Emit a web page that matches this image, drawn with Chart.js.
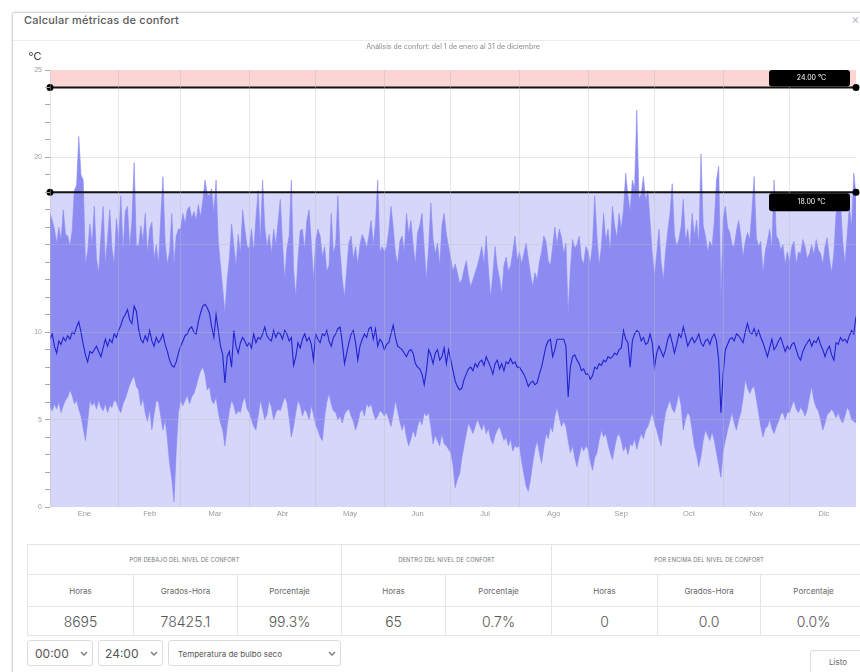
<!DOCTYPE html>
<html>
<head>
<meta charset="utf-8">
<script src="https://cdn.jsdelivr.net/npm/chart.js@4.4.1/dist/chart.umd.min.js"></script>
<style>
  html, body { margin:0; padding:0; background:#fff; width:860px; height:672px; overflow:hidden;
    font-family: Inter, "Noto Sans", sans-serif; }
  #modal { position:absolute; left:12px; top:12px; width:900px; height:700px; border:1px solid #d4d4d4;
    border-radius:3px; background:#fff; box-shadow:0 0 3px rgba(0,0,0,0.12); }
  #hdrline { position:absolute; left:13px; top:40px; width:860px; height:1px; background:#ececec; }
  #mtitle { position:absolute; left:24px; top:13px; font-size:11px; font-weight:500; color:#5a5a5a; letter-spacing:0.2px; }
  #close { position:absolute; left:851px; top:11px; font-size:13px; color:#bdbdbd; }
  #chartBox { position:absolute; left:12px; top:40px; width:848px; height:490px; }
  table.res { position:absolute; left:27px; top:544px; border-collapse:collapse; table-layout:fixed; }
  table.res td { border:1px solid #e4e4e4; text-align:center; color:#666; padding:0; overflow:hidden; white-space:nowrap; }
  table.res tr.g td { height:29px; font-size:5.8px; color:#777; letter-spacing:0.1px; }
  table.res tr.h td { height:31px; font-size:8px; color:#666; }
  table.res tr.v td { height:28px; font-size:14px; color:#555; font-weight:300; }
  .sel { position:absolute; top:640px; height:26px; border:1px solid #dcdcdc; border-radius:3px; box-sizing:border-box;
    color:#555; display:flex; align-items:center; }
  .sel span { position:absolute; }
  .sel svg { position:absolute; top:10px; }
  #listo { position:absolute; left:810px; top:650px; width:60px; height:26px; border:1px solid #dcdcdc; border-radius:3px;
    box-sizing:border-box; font-size:8px; color:#666; }
  #listo span { position:absolute; left:18px; top:6px; }
</style>
</head>
<body>
<div id="modal"></div>
<div id="hdrline"></div>
<div id="mtitle">Calcular métricas de confort</div>
<div id="close">×</div>
<div id="chartBox"><canvas id="c" width="848" height="490"></canvas></div>
<table class="res" id="tbl"></table>
<div class="sel" style="left:27px;width:66px;"><span style="left:7px;top:5px;font-size:12px;">00:00</span>
  <svg style="left:52px" width="8" height="6"><polyline points="1,1 4,4 7,1" fill="none" stroke="#777" stroke-width="1.3"/></svg></div>
<div class="sel" style="left:98px;width:65px;"><span style="left:6px;top:5px;font-size:12px;">24:00</span>
  <svg style="left:51px" width="8" height="6"><polyline points="1,1 4,4 7,1" fill="none" stroke="#777" stroke-width="1.3"/></svg></div>
<div class="sel" style="left:168px;width:173px;"><span style="left:9px;top:8px;font-size:8px;">Temperatura de bulbo seco</span>
  <svg style="left:159px" width="8" height="6"><polyline points="1,1 4,4 7,1" fill="none" stroke="#777" stroke-width="1.3"/></svg></div>
<div id="listo"><span>Listo</span></div>

<script>
// ---------- data ----------
const months = ['Ene','Feb','Mar','Abr','May','Jun','Jul','Ago','Sep','Oct','Nov','Dic'];
const daysInMonth = [31,28,31,30,31,30,31,31,30,31,30,31];
const chartTitle = 'Análisis de confort: del 1 de enero al 31 de diciembre';
const unitLabel = '°C';
const comfortLower = 18;
const comfortUpper = 24;
const yAxisMax = 25;

const dailyMax = [
  16.8,16.4,15.9,15.1,16.0,15.3,17.0,15.6,15.5,14.9,15.8,18.1,18.4,21.2,19.0,18.7,13.9,14.6,16.2,15.0,17.2,14.2,13.4,15.5,17.2,13.9,15.4,17.0,14.8,13.9,16.5,
  15.2,17.8,14.6,16.9,17.2,14.8,16.4,19.7,15.0,14.9,16.1,15.2,16.8,14.5,15.9,16.3,14.2,15.0,13.9,16.5,18.9,15.1,13.9,14.6,16.8,13.9,15.5,15.9,
  15.9,16.8,16.2,17.0,17.2,16.5,16.9,16.4,17.3,16.6,17.5,18.7,17.9,17.8,18.2,16.8,18.7,15.2,13.8,12.5,11.1,13.0,14.2,16.2,15.0,13.8,15.6,14.5,17.0,15.9,14.9,
  14.8,15.9,14.6,16.5,18.1,15.2,18.7,16.0,14.9,15.6,14.5,15.9,15.0,16.3,17.6,15.1,13.0,14.8,15.5,18.7,13.6,12.0,14.2,15.8,15.9,14.7,16.4,17.0,15.1,13.0,
  15.2,15.9,15.5,14.3,14.9,13.5,13.8,16.8,14.5,15.0,17.8,14.6,13.0,12.0,13.6,15.1,15.5,14.2,14.9,13.9,15.0,15.6,15.3,14.8,15.5,16.4,15.0,16.2,18.7,14.6,14.9,
  14.6,14.9,15.8,17.2,16.0,14.5,13.9,15.2,15.5,14.6,16.8,15.6,16.4,15.0,13.9,15.7,16.1,16.8,14.8,13.0,14.9,17.4,15.3,14.5,15.1,13.8,16.1,16.8,15.6,14.9,
  14.2,13.5,13.9,13.4,12.8,13.0,13.6,14.1,13.2,12.6,13.0,13.4,13.8,14.3,14.9,13.9,15.5,13.6,12.0,13.3,14.9,13.7,13.1,12.2,13.8,14.3,13.5,13.8,14.6,15.5,14.1,
  14.6,13.9,14.5,15.1,14.2,13.3,12.6,13.4,13.0,14.0,14.6,15.5,15.2,14.1,13.8,14.9,16.0,15.0,15.9,15.4,14.5,15.1,11.1,13.6,15.3,14.8,15.0,15.5,14.2,13.9,14.9,
  14.6,13.9,15.0,17.8,15.5,13.8,14.9,16.8,15.2,15.9,14.6,17.2,16.1,15.4,16.8,15.9,17.0,19.1,17.8,16.9,18.7,18.2,22.7,17.6,17.9,18.9,17.5,18.1,16.3,14.5,
  13.2,14.5,15.9,14.0,13.0,14.6,15.8,16.8,18.5,15.6,14.9,15.3,16.0,17.6,15.2,15.9,14.8,16.8,15.5,16.4,15.0,20.2,16.1,15.5,14.6,15.2,14.9,16.3,18.7,19.5,12.0,
  16.5,17.2,16.0,15.7,15.0,14.9,15.8,16.4,15.5,14.3,15.2,15.7,15.3,16.9,18.9,15.4,14.9,15.2,13.4,14.6,15.2,15.9,14.8,18.7,15.5,15.3,14.7,15.0,13.9,14.6,
  14.0,14.9,15.2,13.9,14.6,14.5,15.3,14.9,14.2,14.5,15.0,14.4,15.3,14.7,14.5,13.9,14.9,15.4,14.2,13.4,14.5,16.8,17.6,17.4,15.2,13.9,15.5,17.2,16.0,19.1,17.8
];

const dailyMean = [
  9.6,9.9,9.2,8.8,9.5,9.3,9.7,9.5,9.8,9.6,10.0,9.9,10.3,10.6,10.0,9.3,8.7,8.3,8.9,8.8,9.0,9.2,8.9,8.6,9.1,9.6,9.2,9.6,9.4,9.9,9.7,
  10.1,10.4,10.8,11.0,11.3,10.7,10.5,11.5,11.2,10.2,9.6,9.4,9.8,9.5,10.1,9.5,9.2,9.7,9.4,9.6,9.9,9.3,8.9,8.4,8.1,8.0,8.3,8.8,
  9.2,9.5,9.8,9.9,10.2,10.3,10.0,9.9,10.6,11.1,11.5,11.6,11.4,11.1,10.3,9.7,11.0,10.1,9.2,8.7,7.1,8.6,8.9,8.0,10.1,9.2,8.8,9.4,9.7,9.5,9.2,
  9.4,9.1,9.9,9.4,9.7,9.6,9.9,10.3,9.8,9.6,9.5,10.1,9.7,10.0,9.9,9.6,10.1,9.9,9.5,9.7,8.1,8.6,9.4,9.1,9.6,9.9,9.5,9.7,9.3,8.4,
  9.9,9.6,9.4,9.9,9.8,10.1,9.5,9.2,9.7,9.9,10.2,10.3,9.4,8.2,8.8,9.4,9.9,10.1,9.4,8.4,9.2,9.6,9.9,9.7,10.2,10.3,9.6,10.2,9.2,9.6,9.4,
  9.0,9.3,9.4,9.9,10.4,9.7,9.2,9.1,9.0,8.8,8.6,8.9,9.0,8.8,8.2,8.0,7.9,7.6,7.0,7.8,9.0,8.7,8.2,8.8,9.0,8.4,8.6,9.1,8.2,9.0,
  8.4,7.8,7.2,6.9,6.7,6.8,7.3,7.6,7.9,8.0,7.8,8.2,8.0,8.3,8.4,8.1,8.6,8.3,8.0,7.6,8.2,8.4,7.9,8.2,7.8,8.3,8.2,8.5,8.2,8.3,8.0,
  8.0,7.8,7.6,7.3,6.9,7.1,7.2,7.0,7.1,7.6,8.0,8.6,9.2,9.5,9.6,8.6,9.0,9.6,9.6,9.6,9.6,9.2,6.3,8.0,8.6,8.7,8.4,8.2,7.8,7.9,7.6,
  7.6,7.3,7.5,8.0,7.9,8.2,8.1,8.4,8.3,8.6,8.5,8.6,8.8,8.7,9.0,9.1,10.1,9.6,9.4,8.0,9.5,9.9,10.1,10.0,9.5,9.7,9.3,9.4,9.9,9.4,
  8.0,8.8,9.2,8.9,8.6,9.0,9.6,9.9,9.4,8.8,9.3,9.9,9.7,10.3,9.8,9.2,9.5,9.7,9.4,9.6,9.9,9.4,9.2,9.5,9.6,9.3,9.7,9.9,9.5,8.4,5.4,
  7.6,9.0,9.3,9.6,9.7,9.5,9.9,9.8,9.6,9.4,10.0,10.5,10.0,9.9,10.2,9.8,10.1,9.7,9.4,9.0,8.6,9.1,9.6,9.0,9.2,9.5,9.7,9.3,8.9,9.2,
  9.0,9.3,9.4,9.0,8.6,8.4,8.9,9.2,9.4,9.6,9.2,9.5,9.4,9.7,9.3,9.0,8.6,9.0,9.2,8.7,8.4,9.4,9.3,9.7,9.5,9.6,9.4,9.8,10.1,9.9,10.9
];

const dailyMin = [
  5.7,5.5,5.9,5.6,6.0,5.4,5.8,6.1,6.3,6.7,6.4,5.9,6.1,5.6,5.2,4.5,3.8,4.9,6.1,5.8,6.0,5.6,6.1,5.7,5.5,5.9,5.4,5.8,5.7,6.1,6.0,
  5.6,5.4,5.9,6.2,6.6,7.0,7.3,7.5,6.9,6.7,5.8,6.2,5.4,4.9,5.6,4.4,5.3,6.1,6.0,5.2,4.4,5.0,3.9,2.5,1.6,0.3,3.2,5.4,
  6.1,5.8,6.1,6.4,5.9,6.3,6.5,6.9,7.4,7.8,8.0,7.6,6.7,6.9,6.1,5.9,6.3,5.4,4.8,4.4,3.5,4.6,5.5,6.1,5.8,5.3,5.5,5.4,6.0,6.3,5.6,
  5.4,5.0,4.6,4.4,5.2,6.1,5.6,5.0,5.3,6.1,5.7,5.0,5.4,5.6,5.5,5.9,6.3,6.0,5.1,4.0,4.6,5.4,6.1,5.8,5.2,5.6,5.4,5.0,5.8,5.3,
  4.7,4.4,4.0,3.8,5.1,6.0,6.5,5.9,5.5,5.4,5.0,5.2,4.8,5.3,5.5,5.6,5.2,4.9,4.4,4.8,5.4,5.6,5.2,5.9,5.7,5.9,5.4,5.0,5.2,5.5,5.4,
  5.2,5.4,5.0,4.6,5.3,6.1,5.5,4.9,4.4,4.8,4.0,3.5,3.9,4.4,4.0,4.6,5.0,4.7,5.4,5.2,5.4,4.6,3.6,4.1,3.8,3.5,4.2,3.6,3.5,3.3,
  3.1,2.4,1.1,1.6,1.9,2.8,3.5,4.2,4.8,4.5,4.2,4.6,5.0,4.7,4.4,4.8,4.2,4.5,3.9,3.6,4.1,4.4,4.6,4.2,3.8,4.0,3.5,3.9,3.2,3.5,3.4,
  3.5,2.6,1.9,1.2,0.9,1.6,2.5,3.3,3.8,3.1,2.5,3.4,4.2,3.9,4.6,4.3,5.2,5.7,5.1,4.6,4.9,4.6,3.8,3.1,3.5,2.8,2.3,2.9,3.5,3.2,3.5,
  3.3,2.6,2.1,2.8,3.1,3.8,4.4,4.0,4.2,3.6,3.1,2.7,3.4,4.0,4.2,3.8,3.2,3.5,3.0,3.6,3.5,3.9,3.3,3.8,4.2,3.9,4.4,4.6,5.0,5.4,
  4.8,4.4,3.9,3.5,4.6,5.4,5.8,6.1,5.6,5.4,5.9,6.5,5.8,4.4,5.0,5.4,5.2,4.4,3.5,3.0,2.3,2.9,3.8,4.4,4.1,3.8,4.3,3.8,3.1,2.4,1.7,
  3.2,3.8,4.4,4.9,5.4,4.8,4.4,5.0,5.4,6.2,7.3,6.8,6.5,6.8,6.9,6.2,5.4,4.6,4.0,4.5,4.6,5.0,4.5,4.2,4.6,4.9,5.3,5.4,5.0,5.4,
  5.4,5.8,6.1,5.6,5.4,5.7,5.5,5.2,5.6,6.3,6.9,6.1,5.7,5.5,5.0,4.4,4.8,5.3,5.4,5.6,5.4,5.1,5.4,5.0,4.8,5.2,5.7,5.5,5.0,4.9,4.8
];

const groupHeaders = ['POR DEBAJO DEL NIVEL DE CONFORT','DENTRO DEL NIVEL DE CONFORT','POR ENCIMA DEL NIVEL DE CONFORT'];
const groupSpans = [3,2,3];
const columnHeaders = ['Horas','Grados-Hora','Porcentaje','Horas','Porcentaje','Horas','Grados-Hora','Porcentaje'];
const columnValues = ['8695','78425.1','99.3%','65','0.7%','0','0.0','0.0%'];

// ---------- table ----------
const colWidths = [106,104,104,104,106,106,103,106];
(function buildTable(){
  const t = document.getElementById('tbl');
  const cg = document.createElement('colgroup');
  colWidths.forEach(w => { const c = document.createElement('col'); c.style.width = w + 'px'; cg.appendChild(c); });
  t.appendChild(cg);
  t.style.width = colWidths.reduce((a,b)=>a+b,0) + 'px';
  const r1 = t.insertRow(); r1.className = 'g';
  groupHeaders.forEach((g,i) => { const c = r1.insertCell(); c.colSpan = groupSpans[i]; c.textContent = g; });
  const r2 = t.insertRow(); r2.className = 'h';
  columnHeaders.forEach(h => { r2.insertCell().textContent = h; });
  const r3 = t.insertRow(); r3.className = 'v';
  columnValues.forEach(v => { r3.insertCell().textContent = v; });
})();

// ---------- chart ----------
const lastDay = dailyMax.length - 1;
const monthStarts = [];
daysInMonth.reduce((acc, d) => { monthStarts.push(acc); return acc + d; }, 0);
const monthMids = monthStarts.map((s, i) => s + daysInMonth[i] / 2);

const toPts = arr => arr.map((v, i) => ({ x: i, y: v }));
const flat = v => [{ x: 0, y: v }, { x: lastDay, y: v }];

const overlayPlugin = {
  id: 'overlay',
  afterDraw(chart) {
    const { ctx, chartArea: a, scales: { y } } = chart;
    ctx.save();
    ctx.textAlign = 'center';
    ctx.textBaseline = 'middle';
    ctx.font = '7px Inter';
    ctx.fillStyle = '#8a8a8a';
    ctx.fillText(chartTitle, (a.left + a.right) / 2, 7);
    ctx.font = '11px Inter';
    ctx.fillStyle = '#333';
    ctx.fillText(unitLabel, a.left - 15, 17);
    const box = (val, top, h) => {
      const x0 = a.right - 87, w = 81;
      ctx.fillStyle = '#000';
      ctx.beginPath();
      ctx.roundRect(x0, top, w, h, 3);
      ctx.fill();
      ctx.fillStyle = '#fff';
      ctx.font = '7px Inter';
      ctx.fillText(val.toFixed(2) + ' °C', x0 + w / 2 + 2, top + h / 2);
    };
    const yU = y.getPixelForValue(comfortUpper);
    const yTop = y.getPixelForValue(yAxisMax);
    box(comfortUpper, yTop, yU - yTop - 1);
    const yL = y.getPixelForValue(comfortLower);
    box(comfortLower, yL + 1, 18);
    ctx.restore();
  }
};

const gridCol = 'rgba(190,190,190,0.38)';

new Chart(document.getElementById('c'), {
  type: 'line',
  data: {
    datasets: [
      { data: flat(comfortLower), fill: 'origin', backgroundColor: '#d6d6fb', borderWidth: 0, pointRadius: 0, order: 9 },
      { data: flat(yAxisMax), fill: { value: comfortUpper }, backgroundColor: '#fbd4d4', borderWidth: 0, pointRadius: 0, order: 9 },
      { data: toPts(dailyMax), fill: '+1', backgroundColor: '#8b8bf2', borderColor: '#8b8bf2', borderWidth: 0.6, pointRadius: 0, order: 5 },
      { data: toPts(dailyMin), fill: false, borderColor: '#8b8bf2', borderWidth: 0.6, pointRadius: 0, order: 5 },
      { data: toPts(dailyMean), fill: false, borderColor: '#2222cf', borderWidth: 1.1, pointRadius: 0, order: 3 },
      { data: flat(comfortUpper), fill: false, borderColor: '#111', borderWidth: 2, pointRadius: 3.5,
        pointBackgroundColor: '#000', pointBorderWidth: 0, clip: false, order: 1 },
      { data: flat(comfortLower), fill: false, borderColor: '#111', borderWidth: 2, pointRadius: 3.5,
        pointBackgroundColor: '#000', pointBorderWidth: 0, clip: false, order: 1 }
    ]
  },
  options: {
    responsive: false,
    animation: false,
    devicePixelRatio: 1,
    parsing: false,
    layout: { padding: { top: 30, right: 3, left: 0, bottom: 0 } },
    plugins: { legend: { display: false }, title: { display: false }, tooltip: { enabled: false } },
    elements: { line: { tension: 0 } },
    scales: {
      x: {
        type: 'linear', min: 0, max: lastDay, position: 'bottom',
        afterBuildTicks: s => { s.ticks = monthStarts.map(v => ({ value: v })); },
        ticks: { display: false },
        grid: { color: gridCol, drawTicks: false, z: 1 },
        border: { display: false },
        afterFit: s => { s.height = 0; }
      },
      xl: {
        type: 'linear', min: 0, max: lastDay, position: 'bottom',
        afterBuildTicks: s => { s.ticks = monthMids.map(v => ({ value: v })); },
        ticks: { autoSkip: false, maxRotation: 0, padding: 2, color: '#9a9a9a', font: { size: 7.5 },
          callback: (v, i) => months[i] },
        grid: { display: false, drawTicks: false },
        border: { display: false },
        afterFit: s => { s.height = 23; }
      },
      y: {
        type: 'linear', min: 0, max: yAxisMax,
        ticks: { stepSize: 1, autoSkip: false, padding: 3, color: '#9a9a9a', font: { size: 7 },
          callback: v => (v % 5 === 0 && v !== 15) ? v : '' },
        grid: {
          z: 1, tickLength: 5,
          color: c => (c.tick && c.tick.value % 5 === 0 && c.tick.value > 0 && c.tick.value < yAxisMax) ? gridCol : 'rgba(0,0,0,0)',
          tickColor: '#a8a8a8'
        },
        border: { display: false },
        afterFit: s => { s.width = 38; }
      }
    }
  },
  plugins: [overlayPlugin]
});
</script>
</body>
</html>
